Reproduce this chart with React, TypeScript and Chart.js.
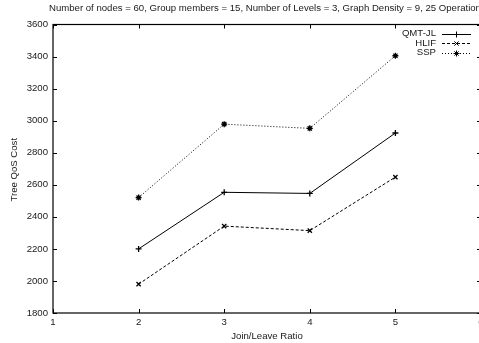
import React, { useEffect, useRef } from "react";
import { Chart, registerables } from "chart.js";
import { drawPoint } from "chart.js/helpers";

Chart.register(...registerables);

const categories = [2, 3, 4, 5];
const qmtJl = [2200, 2553, 2546, 2923];
const hlif = [1980, 2342, 2314, 2648];
const ssp = [2520, 2978, 2952, 3405];
const xTicks = [1, 2, 3, 4, 5, 6];
const yTicks = [1800, 2000, 2200, 2400, 2600, 2800, 3000, 3200, 3400, 3600];
const titleText =
  "Number of nodes = 60, Group members = 15, Number of Levels = 3, Graph Density = 9, 25 Operations";
const xTitle = "Join/Leave Ratio";
const yTitle = "Tree QoS Cost";

const FONT = '"Liberation Sans", Arial, sans-serif';
const FS = 9.6;
const TXT = "#1a1a1a";

const seriesDefs = [
  { label: "QMT-JL", data: qmtJl, dash: [] as number[], style: "cross", radius: 3 },
  { label: "HLIF", data: hlif, dash: [3, 2], style: "crossRot", radius: 3 },
  { label: "SSP", data: ssp, dash: [1, 2], style: "star", radius: 3 },
];

const framePlugin = {
  id: "frame",
  afterDraw(chart: any) {
    const { ctx, chartArea } = chart;
    const { left, right, top, bottom } = chartArea;
    const xs = chart.scales.x;
    const ys = chart.scales.y;
    ctx.save();
    ctx.strokeStyle = "#000";
    ctx.lineWidth = 1.2;
    ctx.setLineDash([]);
    ctx.strokeRect(left, top, right - left, bottom - top);
    ctx.lineWidth = 1;
    const tl = 4;
    ctx.beginPath();
    xTicks.forEach((v) => {
      const px = Math.round(xs.getPixelForValue(v)) + 0.5;
      ctx.moveTo(px, bottom);
      ctx.lineTo(px, bottom - tl);
      ctx.moveTo(px, top);
      ctx.lineTo(px, top + tl);
    });
    yTicks.forEach((v) => {
      const py = Math.round(ys.getPixelForValue(v)) + 0.5;
      ctx.moveTo(left, py);
      ctx.lineTo(left + tl, py);
      ctx.moveTo(right, py);
      ctx.lineTo(right - tl, py);
    });
    ctx.stroke();

    ctx.fillStyle = TXT;
    ctx.font = `${FS}px ${FONT}`;
    ctx.textBaseline = "middle";
    ctx.textAlign = "left";
    ctx.fillText(titleText, 49, 8);

    ctx.textAlign = "center";
    ctx.fillText(xTitle, (left + right) / 2, 336);

    ctx.save();
    ctx.translate(14, (top + bottom) / 2 + 1);
    ctx.rotate(-Math.PI / 2);
    ctx.fillText(yTitle, 0, 0);
    ctx.restore();

    // legend
    seriesDefs.forEach((s, i) => {
      const y = 33.5 + i * 9.6;
      ctx.fillStyle = TXT;
      ctx.textAlign = "right";
      ctx.fillText(s.label, 436, y);
      ctx.strokeStyle = "#000";
      ctx.lineWidth = 1;
      ctx.setLineDash(s.dash);
      ctx.beginPath();
      ctx.moveTo(442, Math.round(y) + 0.5);
      ctx.lineTo(471, Math.round(y) + 0.5);
      ctx.stroke();
      ctx.setLineDash([]);
      ctx.fillStyle = "#000";
      drawPoint(ctx, { pointStyle: s.style, radius: s.radius, borderWidth: 1.3, rotation: 0 } as any, 456.5, Math.round(y) + 0.5);
    });
    ctx.restore();
  },
};

export default function App() {
  const ref = useRef<HTMLCanvasElement | null>(null);
  useEffect(() => {
    if (!ref.current) return;
    const chart = new Chart(ref.current, {
      type: "line",
      data: {
        datasets: seriesDefs.map((s) => ({
          label: s.label,
          data: categories.map((c, i) => ({ x: c, y: s.data[i] })),
          borderColor: "#000",
          backgroundColor: "#000",
          borderWidth: 1,
          borderDash: s.dash,
          pointStyle: s.style as any,
          pointRadius: s.radius,
          pointBorderWidth: 1.3,
          pointBorderColor: "#000",
          pointBackgroundColor: "#000",
          tension: 0,
          fill: false,
        })),
      },
      options: {
        animation: false,
        responsive: false,
        devicePixelRatio: 1,
        layout: { padding: { top: 24.5, right: 9, left: 0, bottom: 0 } },
        plugins: {
          legend: { display: false },
          title: { display: false },
          tooltip: { enabled: false },
        },
        scales: {
          x: {
            type: "linear",
            min: 1,
            max: 6,
            afterBuildTicks: (scale: any) => {
              scale.ticks = xTicks.map((v) => ({ value: v }));
            },
            ticks: {
              font: { family: FONT, size: FS },
              color: TXT,
              padding: 4,
              maxRotation: 0,
              autoSkip: false,
              callback: (v: any) => String(v),
            },
            grid: { display: false, drawTicks: false },
            border: { display: false },
            afterFit: (scale: any) => {
              scale.height = 30;
            },
          },
          y: {
            type: "linear",
            min: 1800,
            max: 3600,
            afterBuildTicks: (scale: any) => {
              scale.ticks = yTicks.map((v) => ({ value: v }));
            },
            ticks: {
              font: { family: FONT, size: FS },
              color: TXT,
              padding: 5,
              autoSkip: false,
              callback: (v: any) => String(v),
            },
            grid: { display: false, drawTicks: false },
            border: { display: false },
            afterFit: (scale: any) => {
              scale.width = 53;
            },
          },
        },
      },
      plugins: [framePlugin],
    });
    return () => chart.destroy();
  }, []);

  return (
    <div
      style={{
        position: "fixed",
        left: 0,
        top: 0,
        width: 479,
        height: 343,
        overflow: "hidden",
        background: "#fff",
      }}
    >
      <canvas ref={ref} width={490} height={343} style={{ display: "block", width: 490, height: 343 }} />
    </div>
  );
}
